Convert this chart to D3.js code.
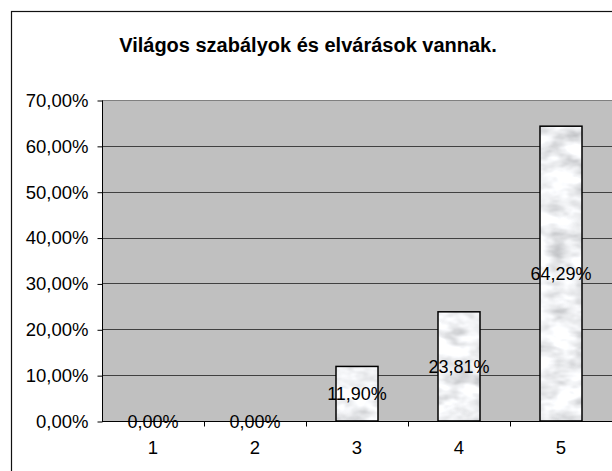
<!DOCTYPE html>
<html>
<head>
<meta charset="utf-8">
<script src="https://cdn.jsdelivr.net/npm/d3@7/dist/d3.min.js"></script>
<style>
  html, body { margin: 0; padding: 0; background: #fff; }
  svg { display: block; font-family: "Liberation Sans", Arial, sans-serif; }
  #frame { position: absolute; left: 11px; top: 11px; width: 700px; height: 600px;
           border: 1px solid #111; box-sizing: border-box; pointer-events: none; }
  body { overflow: hidden; }
</style>
</head>
<body>
<div id="frame"></div>
<svg id="chart" width="612" height="471"></svg>
<script>
// chart data
const categories = ['1', '2', '3', '4', '5'];
const values = [0, 0, 11.90, 23.81, 64.29];
const yTicks = [0, 10, 20, 30, 40, 50, 60, 70];
const title = 'Világos szabályok és elvárások vannak.';

const fmt = v => d3.format('.2f')(v).replace('.', ',') + '%';

const svg = d3.select('#chart');
const plot = { left: 102, top: 100, right: 612, bottom: 421 };

const x = d3.scaleBand().domain(categories).range([plot.left, plot.right]);
const y = d3.scaleLinear().domain([0, 70]).range([plot.bottom, plot.top]);

// marble-like texture for the bars
const defs = svg.append('defs');
const filt = defs.append('filter').attr('id', 'marble')
  .attr('x', 0).attr('y', 0).attr('width', 1).attr('height', 1);
filt.append('feTurbulence').attr('type', 'fractalNoise')
  .attr('baseFrequency', '0.04 0.07').attr('numOctaves', 3).attr('seed', 3).attr('result', 'noise');
filt.append('feColorMatrix').attr('in', 'noise').attr('type', 'matrix')
  .attr('values', '0.5 0.5 0.5 0 0.12  0.5 0.5 0.5 0 0.13  0.5 0.5 0.5 0 0.15  0 0 0 0 1')
  .attr('result', 'gray');
filt.append('feComposite').attr('in', 'gray').attr('in2', 'SourceGraphic').attr('operator', 'in');

// outer frame; its right and bottom sides fall outside the picture
svg.append('rect').attr('x', 11.5).attr('y', 11.5).attr('width', 700).attr('height', 600)
  .attr('fill', 'none').attr('stroke', '#111').attr('stroke-width', 1.2);

svg.append('text').attr('x', 308).attr('y', 52).attr('text-anchor', 'middle')
  .attr('font-size', 20).attr('font-weight', 'bold').text(title);

// plot background
svg.append('rect').attr('x', plot.left).attr('y', plot.top)
  .attr('width', plot.right - plot.left).attr('height', plot.bottom - plot.top)
  .attr('fill', '#c0c0c0');

// gridlines
svg.append('g').selectAll('line').data(yTicks.filter(t => t > 0)).join('line')
  .attr('x1', plot.left).attr('x2', plot.right)
  .attr('y1', d => Math.round(y(d)) + 0.5).attr('y2', d => Math.round(y(d)) + 0.5)
  .attr('stroke', d => d === 70 ? '#808080' : '#404040');

// y axis
const yAxis = svg.append('g').attr('transform', `translate(${plot.left + 0.5},0.5)`)
  .call(d3.axisLeft(y).tickValues(yTicks).tickFormat(fmt).tickSize(5).tickPadding(9));
yAxis.select('.domain').attr('stroke', '#000').attr('d', `M0,${plot.top}V${plot.bottom}`);
yAxis.selectAll('.tick line').attr('stroke', '#000');
yAxis.selectAll('text').attr('font-size', 18.5).attr('fill', '#000')
  .attr('font-family', '"Liberation Sans", Arial, sans-serif');

// x axis
const xAxis = svg.append('g').attr('transform', `translate(0,${Math.round(plot.bottom) + 0.5})`);
xAxis.append('line').attr('x1', plot.left).attr('x2', plot.right).attr('stroke', '#000');
xAxis.selectAll('line.tk').data(categories.slice(1)).join('line').attr('class', 'tk')
  .attr('x1', d => Math.round(x(d)) + 0.5).attr('x2', d => Math.round(x(d)) + 0.5)
  .attr('y1', 0).attr('y2', 5).attr('stroke', '#000');
xAxis.selectAll('text').data(categories).join('text')
  .attr('x', d => x(d) + x.bandwidth() / 2).attr('y', 32)
  .attr('text-anchor', 'middle').attr('font-size', 18.5).text(d => d);

// bars
const barW = 42;
const bars = svg.append('g');
values.forEach((v, i) => {
  if (v <= 0) return;
  const bx = x(categories[i]) + (x.bandwidth() - barW) / 2;
  bars.append('rect').attr('x', bx).attr('y', y(v))
    .attr('width', barW).attr('height', y(0) - y(v))
    .attr('fill', '#eef0f2').attr('filter', 'url(#marble)');
  bars.append('rect').attr('x', bx).attr('y', y(v))
    .attr('width', barW).attr('height', y(0) - y(v))
    .attr('fill', 'none').attr('stroke', '#000').attr('stroke-width', 1.5);
});

// data labels
svg.append('g').selectAll('text').data(values).join('text')
  .attr('x', (d, i) => x(categories[i]) + x.bandwidth() / 2)
  .attr('y', d => (y(d) + y(0)) / 2 + 6.5)
  .attr('text-anchor', 'middle').attr('font-size', 18).text(d => fmt(d));
</script>
</body>
</html>
